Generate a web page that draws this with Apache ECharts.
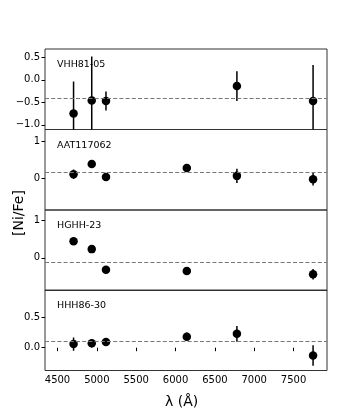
<!DOCTYPE html>
<html lang="en">
<head>
  <meta charset="UTF-8">
  <title>Ni/Fe</title>
  <style>
    * { padding: 0; margin: 0; }
    #charts { width: 363px; height: 416px; }
  </style>
</head>
<body>
  <div id="charts"></div>
<script src="https://cdn.jsdelivr.net/npm/echarts@6/dist/echarts.min.js"></script>
<script type="text/javascript">
  var stars = ['VHH81-05', 'AAT117062', 'HGHH-23', 'HHH86-30']
  var lambda = [4704, 4935, 5116, 6143, 6780, 7748]
  var xTicks = [4500, 5000, 5500, 6000, 6500, 7000, 7500]
  // [Ni/Fe] per star, null = no line measured
  var niVHH = [-0.75, -0.46, -0.47, null, -0.14, -0.47]
  var niAAT = [0.115, 0.39, 0.04, 0.28, 0.07, -0.02]
  var niHGHH = [0.44, 0.23, -0.32, -0.35, null, -0.44]
  var niHHH = [0.06, 0.072, 0.093, 0.18, 0.23, -0.13]
  var errVHH = [0.71, 0.98, 0.21, null, 0.33, 0.8]
  var errAAT = [0.13, 0.03, 0.03, 0.07, 0.19, 0.17]
  var errHGHH = [0.03, 0.03, 0.03, 0.03, null, 0.14]
  var errHHH = [0.11, 0.07, 0.05, 0.07, 0.13, 0.17]
  var means = [-0.41, 0.17, -0.11, 0.10]
  var yTicks = [[-1, -0.5, 0, 0.5], [0, 1], [0, 1], [0, 0.5]]
  var yDigits = [1, 0, 0, 1]
  var yLims = [[-1.105, 0.685], [-0.85, 1.32], [-0.87, 1.27], [-0.378, 0.955]]

  var values = [niVHH, niAAT, niHGHH, niHHH]
  var errors = [errVHH, errAAT, errHGHH, errHHH]
  var myChart = echarts.init(document.getElementById('charts'))

  var tops = [49, 129.5, 210, 290]
  var grids = [], xAxes = [], yAxes = [], series = [], graphics = []
  for (var i = 0; i < stars.length; i++) {
    grids.push({ left: 45, right: 36, top: tops[i], height: 80.5, show: true, borderColor: '#333', borderWidth: 1, backgroundColor: 'transparent' })
    var last = i === stars.length - 1
    xAxes.push({
      gridIndex: i, type: 'value', min: 4341, max: 7925,
      axisLine: { show: false }, splitLine: { show: false },
      axisTick: { show: last, customValues: xTicks, length: 3.5, lineStyle: { color: '#000' } },
      axisLabel: {
        show: last, customValues: xTicks, color: '#000', fontSize: 10, fontFamily: 'DejaVu Sans', margin: 5,
        formatter: function (v) { return String(v) }
      }
    })
    ;(function (d) {
      yAxes.push({
        gridIndex: i, type: 'value', min: yLims[i][0], max: yLims[i][1],
        axisLine: { show: false }, splitLine: { show: false },
        axisTick: { show: true, customValues: yTicks[i], length: 3.5, lineStyle: { color: '#000' } },
        axisLabel: {
          customValues: yTicks[i], color: '#000', fontSize: 10, fontFamily: 'DejaVu Sans', margin: 5,
          formatter: function (v) { return v.toFixed(d).replace('-', '\u2212') }
        }
      })
    })(yDigits[i])
    var pts = [], bars = []
    for (var j = 0; j < lambda.length; j++) {
      if (values[i][j] === null) continue
      pts.push([lambda[j], values[i][j]])
      bars.push([lambda[j], values[i][j], errors[i][j]])
    }
    series.push({
      type: 'custom', xAxisIndex: i, yAxisIndex: i, clip: true, silent: true,
      renderItem: function (params, api) {
        var x = api.value(0), y = api.value(1), e = api.value(2)
        var hi = api.coord([x, y + e]), lo = api.coord([x, y - e])
        return { type: 'line', shape: { x1: hi[0], y1: hi[1], x2: lo[0], y2: lo[1] }, style: { stroke: '#000', lineWidth: 1.5 } }
      },
      data: bars, z: 3
    })
    series.push({
      type: 'scatter', xAxisIndex: i, yAxisIndex: i, symbolSize: 8.5, z: 4,
      itemStyle: { color: '#000', opacity: 1 },
      data: pts,
      markLine: {
        silent: true, symbol: 'none', label: { show: false }, animation: false,
        lineStyle: { color: '#777', type: [4, 2.2], width: 1.2 },
        data: [{ yAxis: means[i] }]
      }
    })
    graphics.push({ type: 'text', left: 57, top: tops[i] + 11, style: { text: stars[i], fontSize: 9.5, fontFamily: 'DejaVu Sans', fill: '#000' } })
  }
  graphics.push({ type: 'text', left: 165, top: 395, style: { text: '\u03bb (\u00c5)', fontSize: 14, fontFamily: 'DejaVu Sans', fill: '#000' } })
  graphics.push({ type: 'text', x: 12, y: 236, rotation: Math.PI / 2, style: { text: '[Ni/Fe]', fontSize: 14, fontFamily: 'DejaVu Sans', fill: '#000' } })

  myChart.setOption({
    animation: false,
    grid: grids, xAxis: xAxes, yAxis: yAxes, series: series, graphic: graphics
  })
</script>
</body>
</html>
